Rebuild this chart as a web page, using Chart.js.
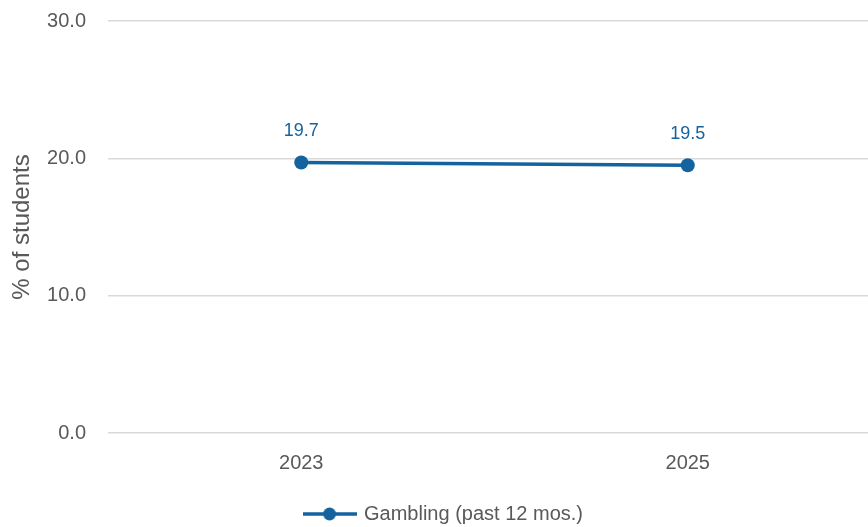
<!DOCTYPE html>
<html>
<head>
<meta charset="utf-8">
<script src="https://cdn.jsdelivr.net/npm/chart.js@4"></script>
<style>
  html, body { margin: 0; padding: 0; background: #fff; overflow: hidden; }
  #wrap { width: 868px; height: 527px; overflow: hidden; }
  #box { width: 888px; height: 527px; }
</style>
</head>
<body>
<div id="wrap"><div id="box"><canvas id="chart"></canvas></div></div>
<script>
const years = ['2023', '2025'];
const gambling = [19.7, 19.5];
const seriesName = 'Gambling (past 12 mos.)';
const yTicks = [0, 10, 20, 30];

const BLUE = '#14639e';
const GREY = '#595959';
const FONT = "'Liberation Sans', Arial, sans-serif";

// legend swatch: short line with a dot in the middle
const swatch = document.createElement('canvas');
swatch.width = 54;
swatch.height = 16;
(function () {
  const c = swatch.getContext('2d');
  c.strokeStyle = BLUE;
  c.lineWidth = 3.5;
  c.beginPath();
  c.moveTo(0, 8);
  c.lineTo(54, 8);
  c.stroke();
  c.fillStyle = BLUE;
  c.beginPath();
  c.arc(27, 8, 6.5, 0, Math.PI * 2);
  c.fill();
})();

const valueLabels = {
  id: 'valueLabels',
  afterDatasetsDraw(chart) {
    const ctx = chart.ctx;
    ctx.save();
    ctx.fillStyle = BLUE;
    ctx.font = '18px ' + FONT;
    ctx.textAlign = 'center';
    ctx.textBaseline = 'middle';
    chart.getDatasetMeta(0).data.forEach((pt, i) => {
      ctx.fillText(gambling[i].toFixed(1), pt.x, pt.y - 31);
    });
    ctx.restore();
  }
};

new Chart(document.getElementById('chart'), {
  type: 'line',
  data: {
    labels: years,
    datasets: [{
      label: seriesName,
      data: gambling,
      borderColor: BLUE,
      backgroundColor: BLUE,
      borderWidth: 3.5,
      pointRadius: 7,
      pointHoverRadius: 7,
      pointBackgroundColor: BLUE,
      pointBorderWidth: 0,
      tension: 0
    }]
  },
  options: {
    responsive: true,
    maintainAspectRatio: false,
    animation: false,
    layout: { padding: { top: 0, left: 0, right: 0, bottom: -7 } },
    plugins: {
      tooltip: { enabled: false },
      legend: {
        position: 'bottom',
        labels: {
          color: GREY,
          font: { family: FONT, size: 20 },
          usePointStyle: true,
          pointStyleWidth: 49,
          boxHeight: 16,
          padding: 2,
          generateLabels(chart) {
            const items = Chart.defaults.plugins.legend.labels.generateLabels(chart);
            items.forEach(it => { it.pointStyle = swatch; });
            return items;
          }
        }
      }
    },
    scales: {
      x: {
        offset: true,
        grid: { display: false },
        border: { display: false },
        ticks: { color: GREY, font: { family: FONT, size: 20 }, padding: 10 },
        afterFit(scale) { scale.height = 69; }
      },
      y: {
        min: 0,
        max: 30,
        afterBuildTicks(scale) { scale.ticks = yTicks.map(v => ({ value: v })); },
        grid: { color: '#d9d9d9', lineWidth: 1.5, drawTicks: false },
        border: { display: false },
        ticks: {
          color: GREY,
          font: { family: FONT, size: 20 },
          padding: 22,
          callback: v => Number(v).toFixed(1)
        },
        title: {
          display: true,
          text: '% of students',
          color: GREY,
          font: { family: FONT, size: 24 },
          padding: { top: 8, bottom: 8 }
        },
        afterFit(scale) {
          scale.width = 108;
          scale.paddingTop = 21;
          scale.paddingBottom = 12;
        }
      }
    }
  },
  plugins: [valueLabels]
});
</script>
</body>
</html>
